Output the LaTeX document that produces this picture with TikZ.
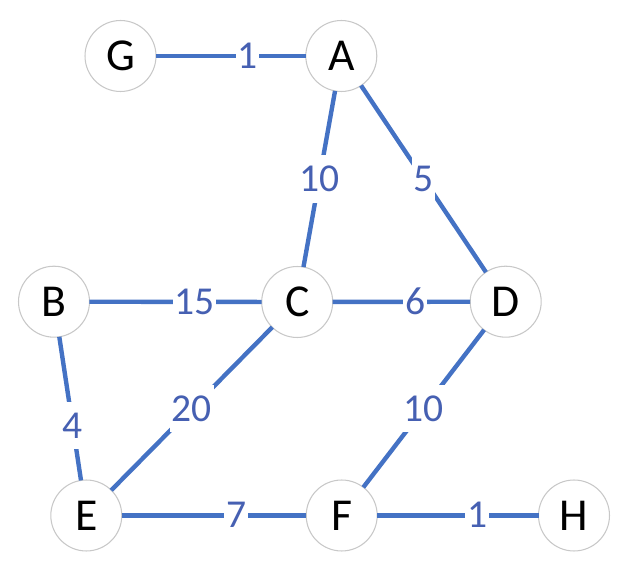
\documentclass[tikz,border=0pt]{standalone}
\usepackage{fontspec}
\setmainfont{Carlito}
\usepackage{tikz}
\usetikzlibrary{shapes,arrows, positioning}
\definecolor{edgeblue}{RGB}{68,114,196}
\definecolor{weightblue}{RGB}{70,96,178}
\definecolor{ringgray}{RGB}{200,200,200}
\tikzstyle{vnode} = [circle, draw=ringgray, line width=0.6pt, fill=white, minimum size=1.42cm, inner sep=0pt, outer sep=0pt, font=\fontsize{26}{31}\selectfont]
\tikzstyle{weight} = [fill=white, text=weightblue, inner xsep=1pt, inner ysep=0pt, text height=20.5pt, text depth=6.3pt, font=\fontsize{22.5}{27}\selectfont]
\tikzstyle{line} = [draw=edgeblue, line width=2.5pt]

\begin{document}
\begin{tikzpicture}[x=0.02cm, y=-0.02cm]
				\useasboundingbox (0,0) rectangle (629,570);
				\node [vnode] (G) at (120.5, 56) {G};
				\node [vnode] (A) at (341.3, 56) {A};
				\node [vnode] (B) at (54, 301.7) {B};
				\node [vnode] (C) at (297.2, 302) {C};
				\node [vnode] (D) at (505.7, 301.7) {D};
				\node [vnode] (E) at (86.3, 515.5) {E};
				\node [vnode] (F) at (341.7, 515.5) {F};
				\node [vnode] (H) at (574, 515.5) {H};
		
				\path [line] (G) -- node [weight, pos=0.61] {1} (A);
				\path [line] (A) -- node [weight] {10} (C);
				\path [line] (A) -- node [weight] {5} (D);
				\path [line] (B) -- node [weight, pos=0.61] {15} (C);
				\path [line] (C) -- node [weight, pos=0.6] {6} (D);
				\path [line] (B) -- node [weight, pos=0.62] {4} (E);
				\path [line] (C) -- node [weight] {20} (E);
				\path [line] (D) -- node [weight] {10} (F);
				\path [line] (E) -- node [weight, pos=0.62] {7} (F);
				\path [line] (F) -- node [weight, pos=0.62] {1} (H);
			\end{tikzpicture}
\end{document}
